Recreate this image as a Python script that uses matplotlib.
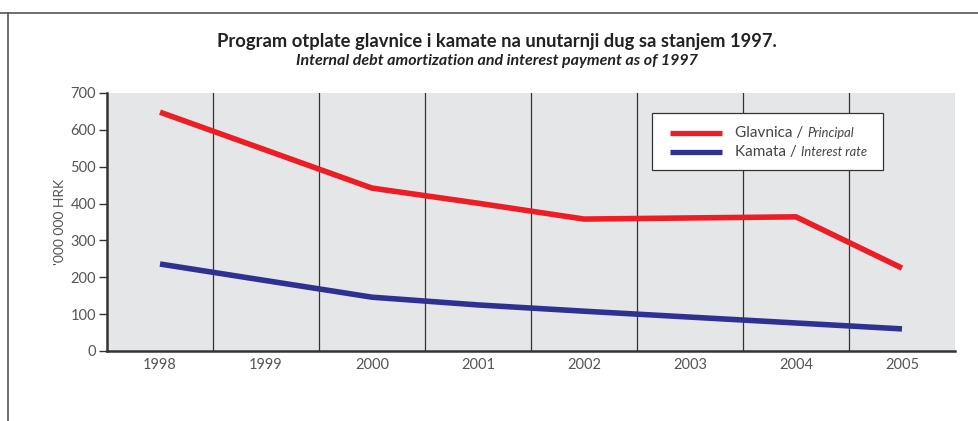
import matplotlib
matplotlib.use("Agg")
import matplotlib.pyplot as plt
from matplotlib.lines import Line2D
from matplotlib.patches import Rectangle
import numpy as np

godine = ["1998", "1999", "2000", "2001", "2002", "2003", "2004", "2005"]
glavnica = [648, 545, 442, 401, 358, 361, 364, 225]
kamata = [236, 191, 146, 125, 108, 92, 76, 60]
serije = [("Glavnica", "Principal", glavnica, "#ee1c25"),
          ("Kamata", "Interest rate", kamata, "#2e3192")]

plt.rcParams['font.family'] = ['Lato', 'DejaVu Sans']

fig = plt.figure(figsize=(9.79, 4.21), dpi=100)
ax = fig.add_axes([107/979, 1-351/421, 848/979, 258/421])
ax.set_facecolor("#e5e6e8")

x = np.arange(len(godine))
for hr, en, vals, col in serije:
    ax.plot(x, vals, color=col, lw=4, solid_capstyle="butt", zorder=3)

ax.set_xlim(-0.5, len(godine)-0.5)
ax.set_ylim(0, 700)
ax.set_yticks(range(0, 701, 100))
ax.set_xticks(x)
ax.set_xticklabels(godine)
for b in np.arange(0.5, len(godine)-1, 1):
    ax.axvline(b, color="#333333", lw=0.9, zorder=1)

for s in ["top", "right"]:
    ax.spines[s].set_visible(False)
for s in ["left", "bottom"]:
    ax.spines[s].set_linewidth(1.8)
    ax.spines[s].set_color("#333333")
ax.tick_params(axis="y", length=6, width=1, color="#333333", labelsize=10.5, labelcolor="#555555", pad=2)
ax.tick_params(axis="x", length=0, labelsize=10.5, labelcolor="#555555", pad=5)
ax.set_ylabel("'000 000 HRK", fontsize=10, color="#555555", labelpad=3)

# legenda - rucno
ax.add_patch(Rectangle((0.6427, 0.7016), 0.2724, 0.2209, transform=ax.transAxes,
                       facecolor="white", edgecolor="#333333", lw=0.9, zorder=5))
for i, (hr, en, vals, col) in enumerate(serije):
    yy = 0.845 - i*0.074
    ax.add_line(Line2D([0.664, 0.725], [yy, yy], transform=ax.transAxes,
                       color=col, lw=3.8, solid_capstyle="butt", zorder=6))
    t1 = ax.text(0.741, yy, hr + " / ", transform=ax.transAxes, fontsize=11,
                 color="#444444", va="center", zorder=6)
    ax.annotate(en, xy=(1, 0.22), xycoords=t1, fontsize=9.3, fontstyle="italic",
                color="#444444", va="baseline", zorder=6)

fig.text(497/979, 1-42/421, "Program otplate glavnice i kamate na unutarnji dug sa stanjem 1997.",
         ha="center", va="center", fontsize=13.2, fontweight="bold", color="#222222")
fig.text(497/979, 1-61/421, "Internal debt amortization and interest payment as of 1997",
         ha="center", va="center", fontsize=11.5, fontstyle="italic", fontweight="bold", color="#222222")

fig.add_artist(Line2D([0, 1], [1-13/421, 1-13/421], color="#555555", lw=1.2))
fig.add_artist(Line2D([8/979, 8/979], [0, 1-13/421], color="#555555", lw=1.2))

fig.savefig("out.png", dpi=100)
